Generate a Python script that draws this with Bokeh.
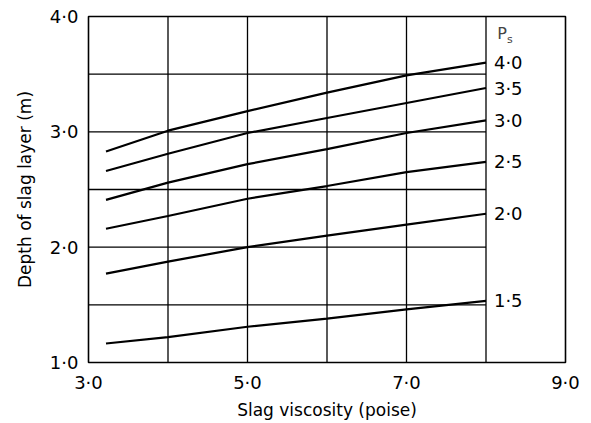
from bokeh.plotting import figure
from bokeh.models import FixedTicker, Range1d, Label, ColumnDataSource
from bokeh.embed import file_html
from bokeh.resources import INLINE
from bokeh.core.properties import value

# ---- data ----
viscosity = [3.22, 4.0, 5.0, 6.0, 7.0, 8.0]
ps_labels = ["4·0", "3·5", "3·0", "2·5", "2·0", "1·5"]
depth_ps40 = [2.83, 3.01, 3.18, 3.34, 3.49, 3.60]
depth_ps35 = [2.66, 2.81, 2.99, 3.12, 3.25, 3.38]
depth_ps30 = [2.41, 2.56, 2.72, 2.85, 2.99, 3.10]
depth_ps25 = [2.16, 2.27, 2.42, 2.53, 2.65, 2.74]
depth_ps20 = [1.77, 1.875, 2.00, 2.10, 2.195, 2.29]
depth_ps15 = [1.165, 1.22, 1.31, 1.38, 1.46, 1.535]
series = [depth_ps40, depth_ps35, depth_ps30, depth_ps25, depth_ps20, depth_ps15]

x_ticks = [3, 5, 7, 9]
x_tick_labels = ["3·0", "5·0", "7·0", "9·0"]
y_ticks = [1, 2, 3, 4]
y_tick_labels = ["1·0", "2·0", "3·0", "4·0"]
x_grid = [4, 5, 6, 7, 8]
y_grid = [1.5, 2.0, 2.5, 3.0, 3.5]

FONT = "DejaVu Sans"

p = figure(width=591, height=423, output_backend="svg", toolbar_location=None,
           x_range=Range1d(3, 9), y_range=Range1d(1, 4),
           min_border_left=88, min_border_right=26, min_border_top=16, min_border_bottom=61)
p.background_fill_color = "white"
p.border_fill_color = "white"
p.outline_line_color = "black"
p.outline_line_width = 1.6
p.xgrid.visible = False
p.ygrid.visible = False

# grid lines: verticals full height, horizontals only up to the last viscosity
xmin, xmax = p.x_range.start, p.x_range.end
ymin, ymax = p.y_range.start, p.y_range.end
p.segment(x0=x_grid, y0=[ymin] * len(x_grid), x1=x_grid, y1=[ymax] * len(x_grid),
          line_color="black", line_width=1.3)
p.segment(x0=[xmin] * len(y_grid), y0=y_grid, x1=[viscosity[-1]] * len(y_grid), y1=y_grid,
          line_color="black", line_width=1.3)

# curves
for ys in series:
    p.line(viscosity, ys, line_color="black", line_width=2.2)

# curve labels at right
lab_src = ColumnDataSource(dict(x=[viscosity[-1] + 0.1] * len(series),
                                y=[s[-1] for s in series], t=ps_labels))
p.text(x="x", y="y", text="t", source=lab_src, text_font=value(FONT),
       text_font_size="18px", text_align="left", text_baseline="middle", text_color="black")

p.add_layout(Label(x=viscosity[-1] + 0.14, y=3.85, text="P", text_font=FONT,
                   text_font_size="16px", text_align="left", text_baseline="middle"))
p.add_layout(Label(x=viscosity[-1] + 0.265, y=3.80, text="s", text_font=FONT,
                   text_font_size="11px", text_align="left", text_baseline="middle"))

# axes
for ax in (p.xaxis[0], p.yaxis[0]):
    ax.axis_line_color = None
    ax.major_tick_line_color = None
    ax.minor_tick_line_color = None
    ax.major_tick_out = 0
    ax.major_tick_in = 0
    ax.major_label_text_font = FONT
    ax.major_label_text_font_size = "18px"
    ax.major_label_text_color = "black"
    ax.axis_label_text_font = FONT
    ax.axis_label_text_font_size = "17px"
    ax.axis_label_text_font_style = "normal"
    ax.axis_label_text_color = "black"

p.xaxis.ticker = FixedTicker(ticks=x_ticks)
p.xaxis.major_label_overrides = dict(zip(x_ticks, x_tick_labels))
p.yaxis.ticker = FixedTicker(ticks=y_ticks)
p.yaxis.major_label_overrides = dict(zip(y_ticks, y_tick_labels))
p.xaxis.axis_label = "Slag viscosity (poise)"
p.yaxis.axis_label = "Depth of slag layer (m)"
p.xaxis.major_label_standoff = 9
p.xaxis.axis_label_standoff = 4
p.yaxis.major_label_standoff = 10
p.yaxis.axis_label_standoff = 12

open("out.html", "w").write(file_html(p, INLINE))
